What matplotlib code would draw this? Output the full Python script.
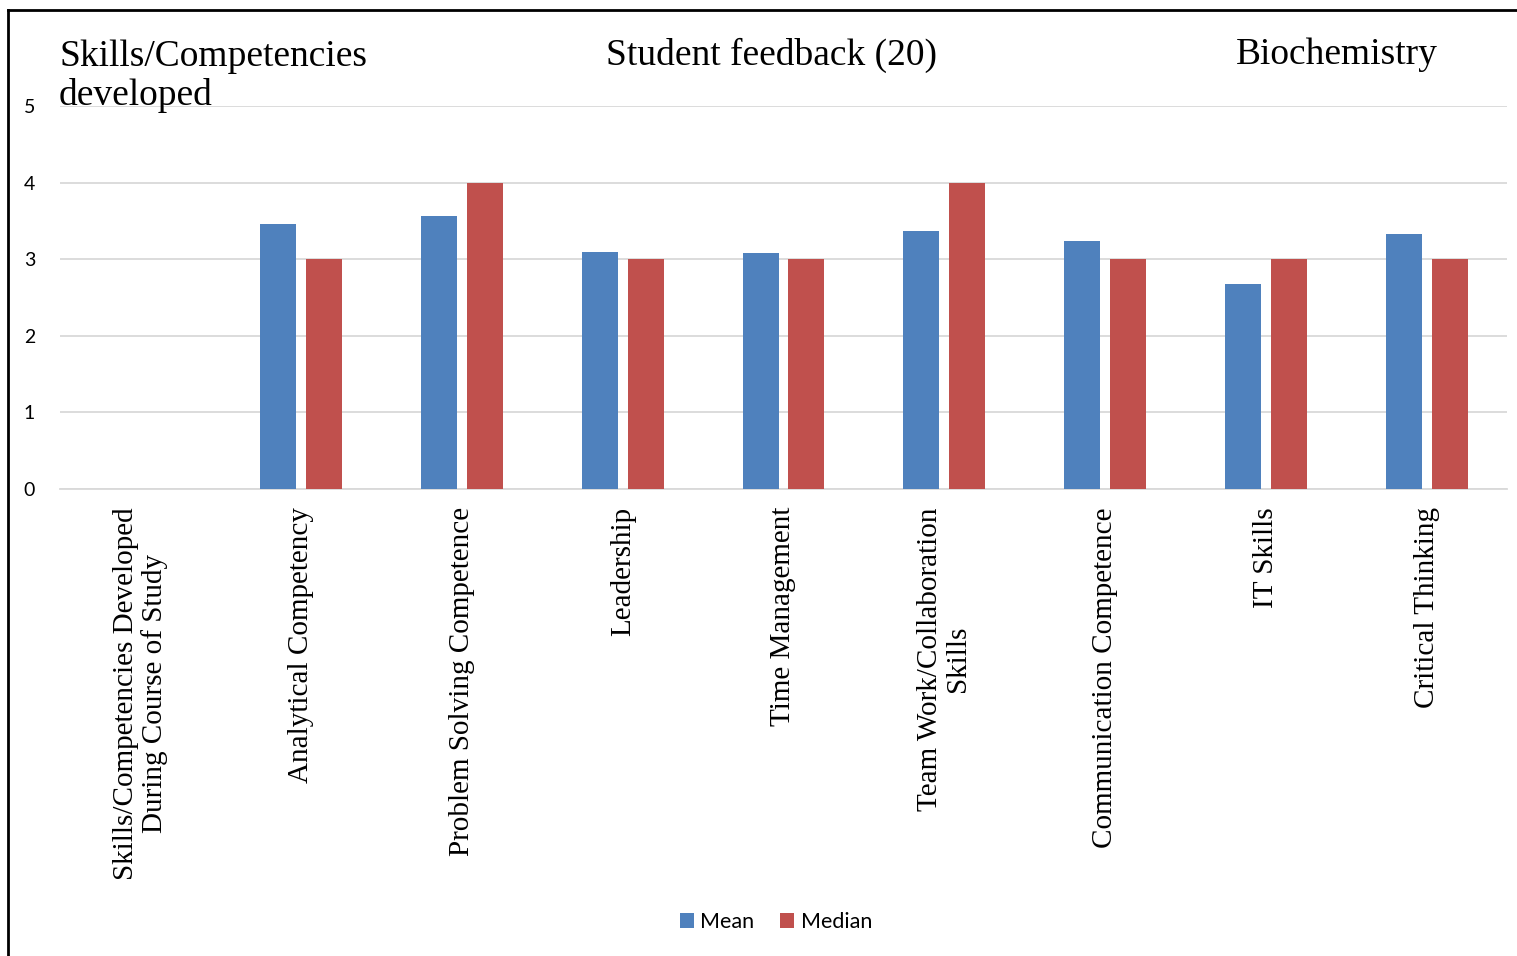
import matplotlib.pyplot as plt
import matplotlib
from matplotlib.lines import Line2D
import numpy as np

matplotlib.rcParams['font.family'] = ['Lato', 'DejaVu Sans']

categories = ['Skills/Competencies Developed\nDuring Course of Study',
              'Analytical Competency', 'Problem Solving Competence',
              'Leadership', 'Time Management',
              'Team Work/Collaboration\nSkills', 'Communication Competence',
              'IT Skills', 'Critical Thinking']
mean = [0, 3.46, 3.56, 3.09, 3.08, 3.37, 3.24, 2.68, 3.33]
median = [0, 3, 4, 3, 3, 4, 3, 3, 3]
yticks = [0, 1, 2, 3, 4, 5]

blue = '#4F81BD'
red = '#C0504D'

fig = plt.figure(figsize=(15.17, 9.56), dpi=100)
ax = fig.add_axes([60/1517, 1-489/956, (1507-60)/1517, (489-106)/956])

x = np.arange(len(categories))
w = 0.224
ax.bar(x - 0.143, mean, w, color=blue, label='Mean', zorder=3)
ax.bar(x + 0.143, median, w, color=red, label='Median', zorder=3)

ax.set_xlim(-0.5, len(categories) - 0.5)
ax.set_ylim(0, 5)
ax.set_yticks(yticks)
ax.set_xticks(x)
ax.set_xticklabels(categories, rotation=90, family='Liberation Serif',
                   fontsize=21, multialignment='center', linespacing=1.1)
ax.tick_params(axis='both', length=0)
ax.tick_params(axis='x', pad=13)
ax.tick_params(axis='y', labelsize=14, pad=22)
for lbl in ax.get_yticklabels():
    lbl.set_horizontalalignment('center')
ax.grid(axis='y', color='#d9d9d9', linewidth=1.3, zorder=0)
for s in ['top', 'right', 'left']:
    ax.spines[s].set_visible(False)
ax.spines['bottom'].set_color('#d9d9d9')
ax.spines['bottom'].set_linewidth(1.3)

# titles
fig.text(59/1517, 1-76/956, 'Skills/Competencies\ndeveloped', family='Liberation Serif',
         fontsize=27, ha='left', va='center', linespacing=1.15)
fig.text(771/1517, 1-55/956, 'Student feedback (20)', family='Liberation Serif',
         fontsize=27, ha='center', va='center')
fig.text(1337/1517, 1-55/956, 'Biochemistry', family='Liberation Serif',
         fontsize=27, ha='center', va='center')

leg = fig.legend(loc='center', bbox_to_anchor=(776/1517, 1-922/956), ncol=2,
                 frameon=False, fontsize=15.5, handlelength=0.65, handleheight=0.65,
                 handletextpad=0.3, columnspacing=1.2)

# border
fig.add_artist(Line2D([8/1517, 8/1517], [0, 1-10/956], color='black', lw=2))
fig.add_artist(Line2D([8/1517, 1], [1-10/956, 1-10/956], color='black', lw=2))

fig.savefig('out.png', dpi=100)
